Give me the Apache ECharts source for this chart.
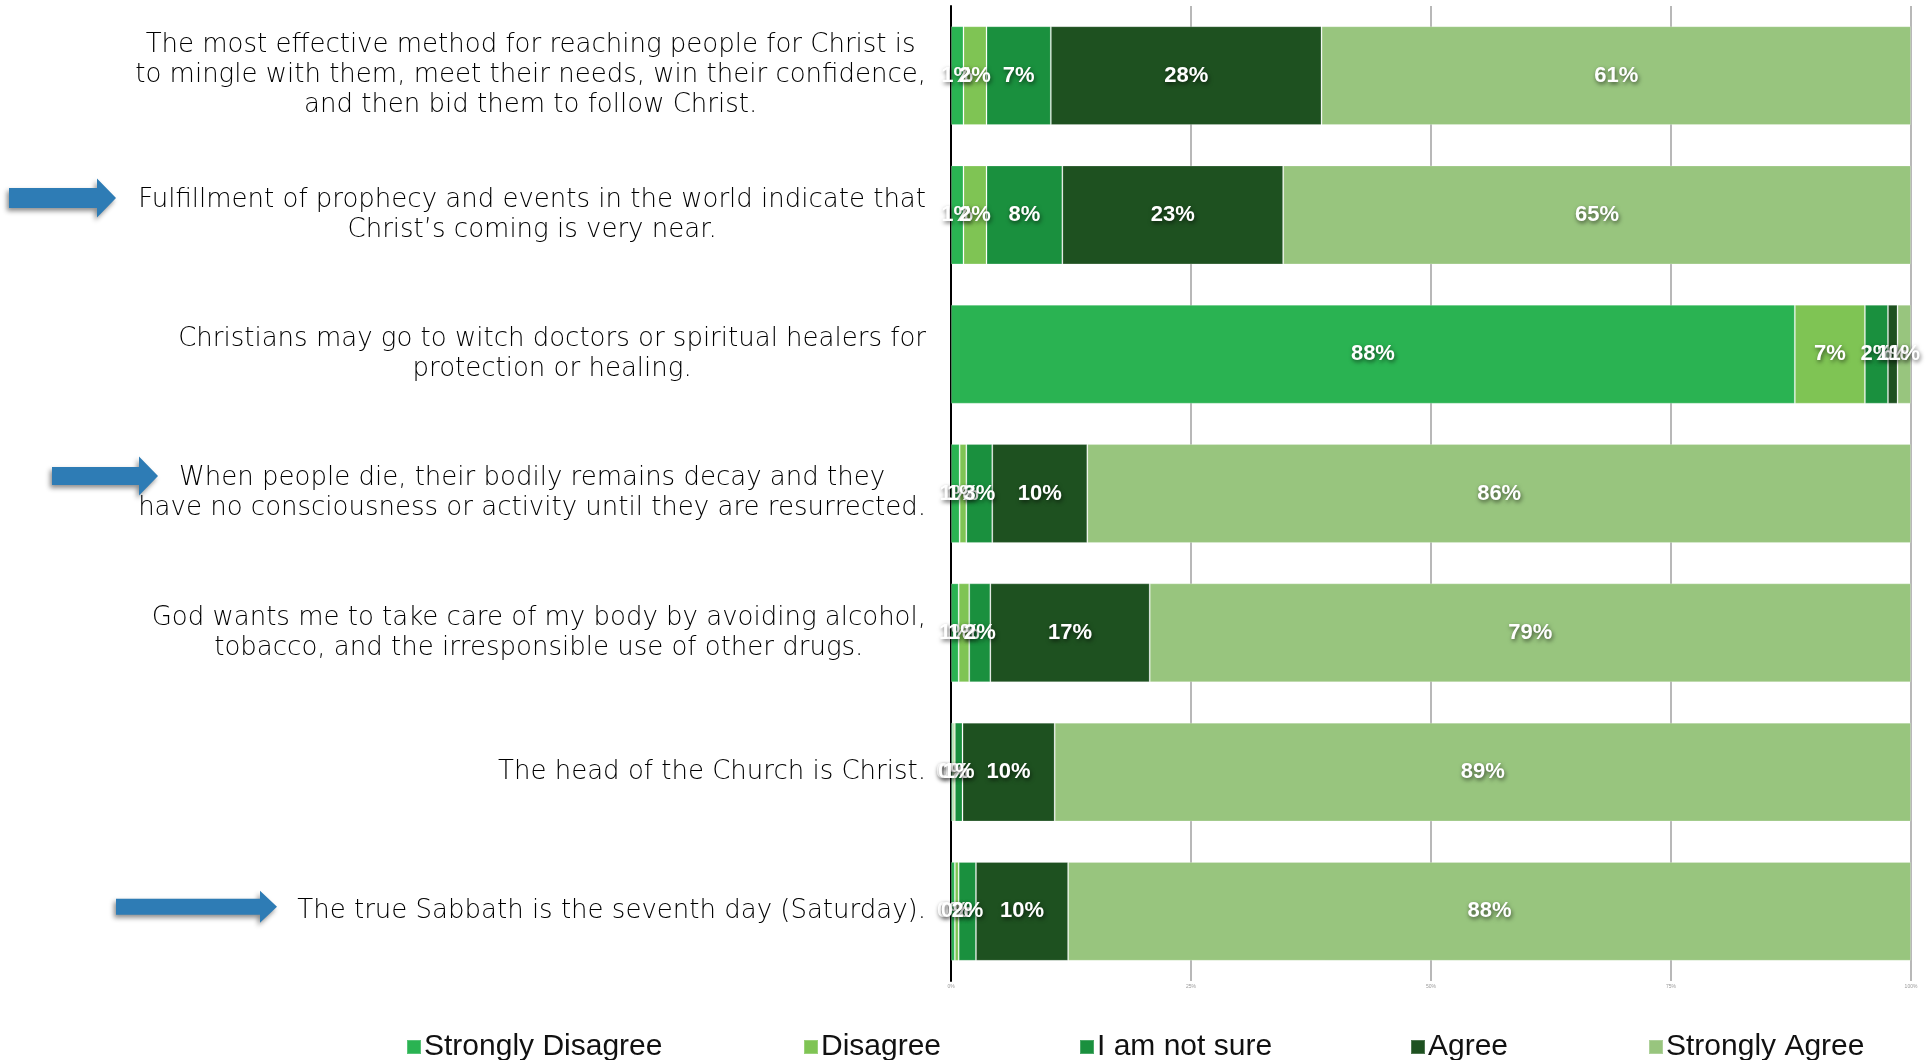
<!DOCTYPE html>
<html>
<head>
<meta charset="utf-8">
<script src="https://cdn.jsdelivr.net/npm/echarts@6/dist/echarts.min.js"></script>
<style>
html,body{margin:0;padding:0;background:#fff;}
#chart{width:1931px;height:1060px;}
</style>
</head>
<body>
<div id="chart"></div>
<script>
const categories = [
  "The most effective method for reaching people for Christ is\nto mingle with them, meet their needs, win their confidence,\nand then bid them to follow Christ.",
  "Fulfillment of prophecy and events in the world indicate that\nChrist\u2019s coming is very near.",
  "Christians may go to witch doctors or spiritual healers for\nprotection or healing.",
  "When people die, their bodily remains decay and they\nhave no consciousness or activity until they are resurrected.",
  "God wants me to take care of my body by avoiding alcohol,\ntobacco, and the irresponsible use of other drugs.",
  "The head of the Church is Christ.",
  "The true Sabbath is the seventh day (Saturday)."
];
const seriesNames = ["Strongly Disagree", "Disagree", "I am not sure", "Agree", "Strongly Agree"];
const stronglyDisagree = [1.3, 1.3, 87.9, 0.9, 0.8, 0.2, 0.4];
const disagree         = [2.4, 2.4, 7.3, 0.7, 1.1, 0.2, 0.4];
const notSure          = [6.7, 7.9, 2.4, 2.7, 2.2, 0.8, 1.8];
const agree            = [28.2, 23.0, 1.0, 9.9, 16.6, 9.6, 9.6];
const stronglyAgree    = [61.4, 65.4, 1.4, 85.8, 79.3, 89.2, 87.8];
const xTickLabels = ["0%", "25%", "50%", "75%", "100%"];
const arrowRows = [1, 3, 6];

const colors = ["#2ab352", "#7fc454", "#1a903e", "#1e5120", "#98c57e"];
const valueSets = [stronglyDisagree, disagree, notSure, agree, stronglyAgree];
const FONT = "'Liberation Sans', Arial, Helvetica, sans-serif";
const CAT_FONT = "'DejaVu Sans', 'Liberation Sans', sans-serif";

const chart = echarts.init(document.getElementById('chart'), null, {renderer: 'canvas'});

const series = seriesNames.map((name, i) => ({
  name: name,
  type: 'bar',
  stack: 'total',
  barCategoryGap: '29%',
  data: valueSets[i],
  itemStyle: {color: colors[i], borderColor: 'rgba(255,255,255,0.22)', borderWidth: 1},
  label: {
    show: true,
    position: 'inside',
    formatter: p => Math.round(p.value) + '%',
    color: '#fff',
    fontFamily: FONT,
    fontWeight: 'bold',
    fontSize: 22,
    textShadowColor: 'rgba(0,0,0,0.6)',
    textShadowBlur: 4,
    textShadowOffsetX: 1,
    textShadowOffsetY: 2
  },
  emphasis: {disabled: true}
}));

const legendLefts = [406, 803, 1079, 1410, 1648];
const legends = seriesNames.map((name, i) => ({
  data: [name],
  left: legendLefts[i],
  top: 1030,
  padding: 0,
  icon: 'rect',
  itemWidth: 14,
  itemHeight: 14,
  itemGap: 6,
  selectedMode: false,
  textStyle: {fontFamily: FONT, fontSize: 30, color: '#111', lineHeight: 34, padding: [0, 0, 0, -2]}
}));

chart.setOption({
  animation: false,
  backgroundColor: '#fff',
  grid: {left: 951, right: 20, top: 6, bottom: 79},
  xAxis: {
    type: 'value', min: 0, max: 100, interval: 25,
    axisLine: {show: false},
    axisTick: {show: false},
    splitLine: {show: true, lineStyle: {color: '#b8b8b8', width: 2}},
    axisLabel: {fontSize: 5, color: '#999', margin: 3,
      formatter: v => xTickLabels[Math.round(v / 25)]}
  },
  yAxis: {
    type: 'category', inverse: true, data: categories,
    axisLine: {show: true, lineStyle: {color: '#000', width: 2}},
    axisTick: {show: false},
    axisLabel: {
      margin: 25,
      formatter: v => v.split('\n').map(l => '{c|' + l + '}').join('\n'),
      rich: {c: {align: 'center', fontFamily: CAT_FONT, fontWeight: 300, fontSize: 26, lineHeight: 30, color: '#000'}}
    }
  },
  legend: legends,
  series: series
});

// decorative arrows next to highlighted statements
const arrowShapes = [
  {tail: 9, headStart: 97, tip: 116, dy: -17, body: 10, head: 19.5},
  {tail: 52, headStart: 139, tip: 158, dy: -17.5, body: 9, head: 19.5},
  {tail: 116, headStart: 260, tip: 277, dy: -4.5, body: 8, head: 16}
];
const graphics = arrowRows.map((row, k) => {
  const s = arrowShapes[k];
  const cy = chart.convertToPixel({yAxisIndex: 0}, categories[row]) + s.dy;
  return {
    type: 'polygon',
    shape: {points: [
      [s.tail, cy - s.body], [s.headStart, cy - s.body], [s.headStart, cy - s.head],
      [s.tip, cy], [s.headStart, cy + s.head], [s.headStart, cy + s.body], [s.tail, cy + s.body]
    ]},
    style: {fill: '#2e7cb5', shadowBlur: 5, shadowColor: 'rgba(0,0,0,0.45)', shadowOffsetX: -2, shadowOffsetY: 3}
  };
});
chart.setOption({graphic: graphics});
</script>
</body>
</html>
